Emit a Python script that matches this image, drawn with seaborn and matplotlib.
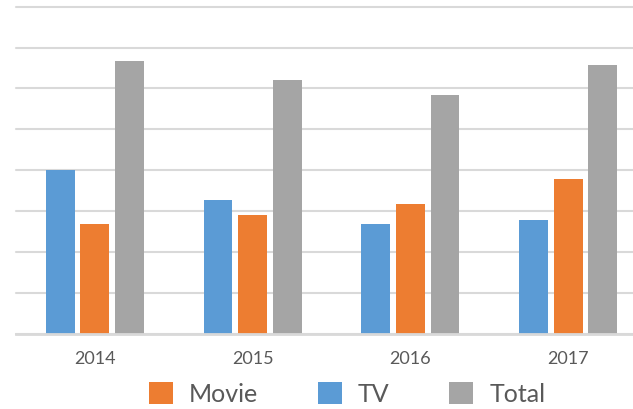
import pandas as pd
import seaborn as sns
import matplotlib.pyplot as plt
from matplotlib.patches import Patch

years = ['2014', '2015', '2016', '2017']
tv = [4.0, 3.26, 2.68, 2.79]
movie = [2.68, 2.89, 3.16, 3.79]
total = [6.68, 6.2, 5.83, 6.57]

series = ['TV', 'Movie', 'Total']
colors = {'TV': '#5B9BD5', 'Movie': '#ED7D31', 'Total': '#A5A5A5'}
legend_order = ['Movie', 'TV', 'Total']

df = pd.DataFrame({'year': years * 3,
                   'series': ['TV'] * 4 + ['Movie'] * 4 + ['Total'] * 4,
                   'value': tv + movie + total})

sns.set_style('white')
plt.rcParams['font.family'] = ['Lato', 'DejaVu Sans']

fig = plt.figure(figsize=(6.33, 4.09), dpi=100)
ax = fig.add_axes([16 / 633, (409 - 333.5) / 409, 631 / 633, (333.5 - 6.7) / 409])

sns.barplot(data=df, x='year', y='value', hue='series', hue_order=series,
            palette=colors, width=0.66, gap=0.17, ax=ax, legend=False,
            saturation=1, edgecolor='none')

ax.set_ylim(0, 8)
ax.set_xlim(-0.5, 3.5)
ax.set_yticks(range(0, 9))
ax.yaxis.grid(True, color='#D9D9D9', linewidth=1.5)
for line in ax.get_ygridlines():
    line.set_clip_on(False)
ax.set_axisbelow(True)
ax.tick_params(axis='y', left=False, labelleft=False)
ax.tick_params(axis='x', bottom=False, labelsize=13, labelcolor='#595959', pad=9)
ax.set_xlabel('')
ax.set_ylabel('')
for s in ['top', 'right', 'left']:
    ax.spines[s].set_visible(False)
ax.spines['bottom'].set_color('#D9D9D9')
ax.spines['bottom'].set_linewidth(2)

handles = [Patch(facecolor=colors[s], edgecolor='none', label=s) for s in legend_order]
leg = fig.legend(handles=handles, loc='center', bbox_to_anchor=(347 / 633, 1 - 394 / 409),
                 ncol=3, frameon=False, fontsize=18, handlelength=0.96, handleheight=0.96,
                 handletextpad=0.64, columnspacing=2.4)
for t in leg.get_texts():
    t.set_color('#595959')

fig.savefig('out.png', dpi=100)
